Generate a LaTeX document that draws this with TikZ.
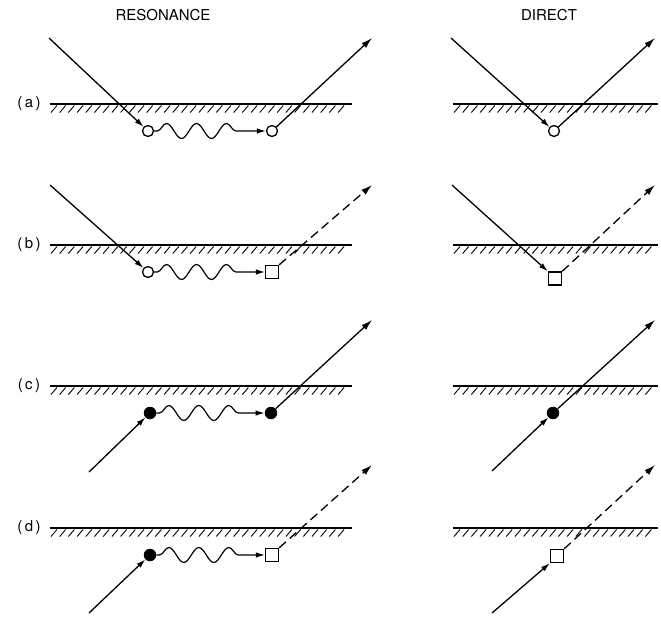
\documentclass[tikz,border=0pt]{standalone}
\usepackage{fontspec}
\setmainfont{TeX Gyre Heros}
\usetikzlibrary{arrows.meta,decorations.pathmorphing}

\tikzset{
  surfline/.style={line width=2pt},
  hatchline/.style={line width=0.9pt},
  ray/.style={line width=1.3pt},
  dashray/.style={line width=1.3pt, dash pattern=on 9pt off 5pt},
  intip/.style={-{Latex[length=9pt,width=5.5pt]}},
  outtip/.style={-{Latex[length=11pt,width=6.5pt]}},
  openp/.style={circle, draw, line width=1.3pt, minimum size=11pt, inner sep=0pt},
  fullp/.style={circle, fill, minimum size=12.5pt, inner sep=0pt},
  sqp/.style={rectangle, draw, line width=1.3pt, minimum size=13pt, inner sep=0pt},
  wavy/.style={line width=1.2pt, decorate,
    decoration={snake, segment length=30pt, amplitude=7.5pt, pre length=3pt, post length=16pt}},
  rowlabel/.style={font=\fontsize{15}{17}\selectfont},
  coltitle/.style={font=\fontsize{15}{18}\selectfont}
}

\begin{document}
\begin{tikzpicture}[x=1pt, y=-1pt]
  \useasboundingbox (0,0) rectangle (661,619);

  % column titles
  \node[coltitle] (tres) at (163,15) {RESONANCE};
  \node[coltitle] (tdir) at (549,15) {DIRECT};

  % surfaces with hatching
  \foreach \ys/\lab in {104/a,245/b,386/c,528/d} {
    \node[rowlabel] (l\lab) at (29,\ys) {(\,\lab\,)};
    \draw[surfline] (50,\ys) -- (352,\ys);
    \draw[surfline] (453,\ys) -- (658,\ys);
    \foreach \hx in {51,59.7,...,346}
      \draw[hatchline] (\hx,\ys+8.5) -- (\hx+6,\ys+1.5);
    \foreach \hx in {454,462.7,...,651}
      \draw[hatchline] (\hx,\ys+8.5) -- (\hx+6,\ys+1.5);
  }

  % (a) resonance
  \coordinate (a-in) at (49,38);
  \node[openp] (a-p1) at (148,131) {};
  \node[openp] (a-p2) at (272,131) {};
  \coordinate (a-out) at (372,38);
  \draw[ray,intip] (a-in) -- (a-p1);
  \draw[wavy,intip] (a-p1) -- (a-p2);
  \draw[ray,outtip] (a-p2) -- (a-out);
  % (a) direct
  \coordinate (ad-in) at (451,38);
  \node[openp] (ad-p) at (554,131) {};
  \coordinate (ad-out) at (655,38);
  \draw[ray,intip] (ad-in) -- (ad-p);
  \draw[ray,outtip] (ad-p) -- (ad-out);

  % (b) resonance
  \coordinate (b-in) at (50,185);
  \node[openp] (b-p1) at (148,272) {};
  \node[sqp] (b-sq) at (272,272) {};
  \coordinate (b-out) at (372,185);
  \draw[ray,intip] (b-in) -- (b-p1);
  \draw[wavy,intip] (b-p1) -- (b-sq);
  \draw[dashray,outtip] (b-sq.north east) -- (b-out);
  % (b) direct
  \coordinate (bd-in) at (452,185);
  \node[sqp] (bd-sq) at (555,278.5) {};
  \coordinate (bd-out) at (655,185);
  \draw[ray,intip] (bd-in) -- (bd-sq.north west);
  \draw[dashray,outtip] (bd-sq.north east) -- (bd-out);

  % (c) resonance
  \coordinate (c-in) at (89,472);
  \node[fullp] (c-p1) at (150,413) {};
  \node[fullp] (c-p2) at (271,413) {};
  \coordinate (c-out) at (372,320);
  \draw[ray,intip] (c-in) -- (c-p1);
  \draw[wavy,intip] (c-p1) -- (c-p2);
  \draw[ray,outtip] (c-p2) -- (c-out);
  % (c) direct
  \coordinate (cd-in) at (492,471);
  \node[fullp] (cd-p) at (553,413) {};
  \coordinate (cd-out) at (655,320);
  \draw[ray,intip] (cd-in) -- (cd-p);
  \draw[ray,outtip] (cd-p) -- (cd-out);

  % (d) resonance
  \coordinate (d-in) at (89,613);
  \node[fullp] (d-p1) at (150,555) {};
  \node[sqp] (d-sq) at (272,555) {};
  \coordinate (d-out) at (372,465);
  \draw[ray,intip] (d-in) -- (d-p1);
  \draw[wavy,intip] (d-p1) -- (d-sq);
  \draw[dashray,outtip] (d-sq.north east) -- (d-out);
  % (d) direct
  \coordinate (dd-in) at (492,613);
  \node[sqp] (dd-sq) at (557,556) {};
  \coordinate (dd-out) at (655,465);
  \draw[ray,intip] (dd-in) -- (dd-sq.south west);
  \draw[dashray,outtip] (dd-sq.north east) -- (dd-out);
\end{tikzpicture}
\end{document}
